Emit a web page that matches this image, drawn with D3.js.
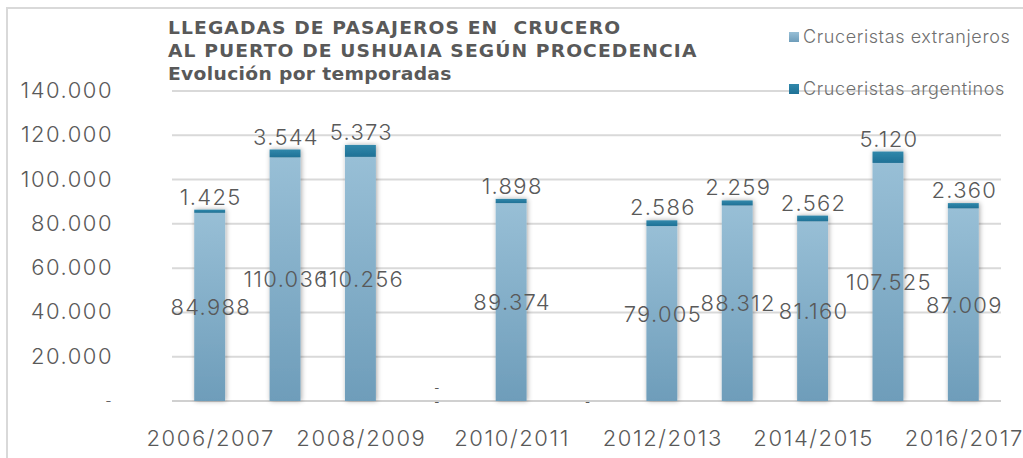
<!DOCTYPE html>
<html>
<head>
<meta charset="utf-8">
<script src="https://cdn.jsdelivr.net/npm/d3@7"></script>
<style>
  body { margin: 0; background: #fff; }
  svg { display: block; }
  .light { font-family: Inter, "DejaVu Sans", sans-serif; font-weight: 300; fill: #595959; font-feature-settings: "pnum" 1; }
</style>
</head>
<body>
<svg id="chart" width="1023" height="458"></svg>
<script>
// seasons (temporadas)
const seasons = ["2006/2007", "2007/2008", "2008/2009", "2009/2010", "2010/2011", "2011/2012",
  "2012/2013", "2013/2014", "2014/2015", "2015/2016", "2016/2017"];
// cruceristas extranjeros (null = no label shown)
const foreign = [84988, 110036, 110256, 0, 89374, null, 79005, 88312, 81160, 107525, 87009];
// cruceristas argentinos
const argentine = [1425, 3544, 5373, 0, 1898, 0, 2586, 2259, 2562, 5120, 2360];
const yTicks = [0, 20000, 40000, 60000, 80000, 100000, 120000, 140000];
const titleLines = ["LLEGADAS DE PASAJEROS EN  CRUCERO", "AL PUERTO DE USHUAIA SEGÚN PROCEDENCIA", "Evolución por temporadas"];
const seriesNames = ["Cruceristas extranjeros", "Cruceristas argentinos"];

const locale = d3.formatLocale({ decimal: ",", thousands: ".", grouping: [3], currency: ["$", ""] });
const fmt = (v) => (v === 0 ? "-" : locale.format(",d")(v));

const svg = d3.select("#chart");

// outer border
svg.append("rect")
  .attr("x", 7).attr("y", 8).attr("width", 1030).attr("height", 470)
  .attr("fill", "#fff").attr("stroke", "#d9d9d9").attr("stroke-width", 2);

const defs = svg.append("defs");
const g1 = defs.append("linearGradient").attr("id", "gForeign").attr("x1", 0).attr("y1", 0).attr("x2", 0).attr("y2", 1);
g1.append("stop").attr("offset", "0%").attr("stop-color", "#98bfd6");
g1.append("stop").attr("offset", "100%").attr("stop-color", "#6e9dba");
const g2 = defs.append("linearGradient").attr("id", "gArg").attr("x1", 0).attr("y1", 0).attr("x2", 0).attr("y2", 1);
g2.append("stop").attr("offset", "0%").attr("stop-color", "#3188ab");
g2.append("stop").attr("offset", "100%").attr("stop-color", "#1f7196");
const shadow = defs.append("filter").attr("id", "shadow").attr("x", "-50%").attr("y", "-10%").attr("width", "200%").attr("height", "120%");
shadow.append("feDropShadow").attr("dx", 1).attr("dy", 0).attr("stdDeviation", 2.5)
  .attr("flood-color", "#000").attr("flood-opacity", 0.35);

const x = d3.scaleBand().domain(seasons).range([172, 1001]).paddingInner(0.59).paddingOuter(0.295);
const y = d3.scaleLinear().domain([0, 140000]).range([401, 91]);
const cx = (s) => x(s) + x.bandwidth() / 2;

// gridlines
svg.append("g").selectAll("line")
  .data(yTicks)
  .enter()
  .append("line")
  .attr("x1", 172).attr("x2", 1001)
  .attr("y1", (d) => y(d)).attr("y2", (d) => y(d))
  .attr("stroke", (d) => (d === 0 ? "#d0d0d0" : "#d9d9d9"))
  .attr("stroke-width", 2);

// y axis labels
svg.append("g").selectAll("text")
  .data(yTicks)
  .enter()
  .append("text")
  .attr("class", "light")
  .attr("x", 113)
  .attr("y", (d) => y(d) + (d === 0 ? 5 : 7))
  .attr("text-anchor", "end")
  .style("font-size", (d) => (d === 0 ? "14px" : "22px"))
  .style("letter-spacing", "1.5px")
  .text((d) => fmt(d));

// x axis labels (every other season)
svg.append("g").selectAll("text")
  .data(seasons.filter((d, i) => i % 2 === 0))
  .enter()
  .append("text")
  .attr("class", "light")
  .attr("x", (d) => cx(d) + 1)
  .attr("y", 446)
  .attr("text-anchor", "middle")
  .style("font-size", "22px")
  .style("letter-spacing", "1.6px")
  .text((d) => d);

const rows = seasons.map((s, i) => ({ season: s, foreign: foreign[i], argentine: argentine[i] }));

// bars
const bars = svg.append("g").attr("filter", "url(#shadow)");
bars.selectAll(".foreign")
  .data(rows.filter((d) => d.foreign > 0))
  .enter()
  .append("rect")
  .attr("class", "foreign")
  .attr("x", (d) => x(d.season))
  .attr("width", x.bandwidth())
  .attr("y", (d) => y(d.foreign))
  .attr("height", (d) => y(0) - y(d.foreign))
  .attr("fill", "url(#gForeign)");
bars.selectAll(".arg")
  .data(rows.filter((d) => d.argentine > 0))
  .enter()
  .append("rect")
  .attr("class", "arg")
  .attr("x", (d) => x(d.season))
  .attr("width", x.bandwidth())
  .attr("y", (d) => y(d.foreign + d.argentine))
  .attr("height", (d) => y(d.foreign) - y(d.foreign + d.argentine))
  .attr("fill", "url(#gArg)");

// data labels
const labels = svg.append("g");
labels.selectAll(".lf")
  .data(rows.filter((d) => d.foreign !== null))
  .enter()
  .append("text")
  .attr("class", "light")
  .attr("x", (d) => cx(d.season) + 1)
  .attr("y", (d) => (d.foreign > 0 ? y(d.foreign / 2) + 8 : y(0) - 9))
  .attr("text-anchor", "middle")
  .style("font-size", (d) => (d.foreign > 0 ? "22px" : "11px"))
  .style("font-weight", (d) => (d.foreign > 0 ? 300 : 500))
  .style("letter-spacing", (d) => (d.foreign > 0 ? "1.3px" : "0px"))
  .text((d) => fmt(d.foreign));
labels.selectAll(".la")
  .data(rows)
  .enter()
  .append("text")
  .attr("class", "light")
  .attr("x", (d) => cx(d.season) + 1)
  .attr("y", (d) => (d.argentine > 0 ? y(d.foreign + d.argentine) - 5 : y(0) + 5))
  .attr("text-anchor", "middle")
  .style("font-size", (d) => (d.argentine > 0 ? "22px" : "11px"))
  .style("font-weight", (d) => (d.argentine > 0 ? 300 : 500))
  .style("letter-spacing", (d) => (d.argentine > 0 ? "1.3px" : "0px"))
  .text((d) => fmt(d.argentine));

// title (slightly widened to match the original's broad typeface)
svg.append("g")
  .attr("transform", "translate(168,0) scale(1.1,1)")
  .selectAll("text")
  .data(titleLines)
  .enter()
  .append("text")
  .attr("x", 0)
  .attr("y", (d, i) => 34 + i * 23)
  .style("font-family", "\"DejaVu Sans\", sans-serif")
  .style("font-weight", "bold")
  .style("font-size", "17px")
  .style("letter-spacing", (d, i) => (i === 2 ? "0.3px" : "1px"))
  .style("white-space", "pre")
  .style("fill", "#595959")
  .text((d) => d);

// legend
const legend = svg.append("g").selectAll("g")
  .data(seriesNames)
  .enter()
  .append("g")
  .attr("transform", (d, i) => "translate(789," + (37 + i * 52) + ")");
legend.append("rect")
  .attr("x", 0).attr("y", -5).attr("width", 10).attr("height", 10)
  .attr("fill", (d, i) => (i === 0 ? "url(#gForeign)" : "url(#gArg)"));
legend.append("text")
  .attr("class", "light")
  .attr("x", 14)
  .attr("y", 6)
  .style("font-size", "18px")
  .style("letter-spacing", "0.6px")
  .style("fill", "#6f6f6f")
  .text((d) => d);
</script>
</body>
</html>
